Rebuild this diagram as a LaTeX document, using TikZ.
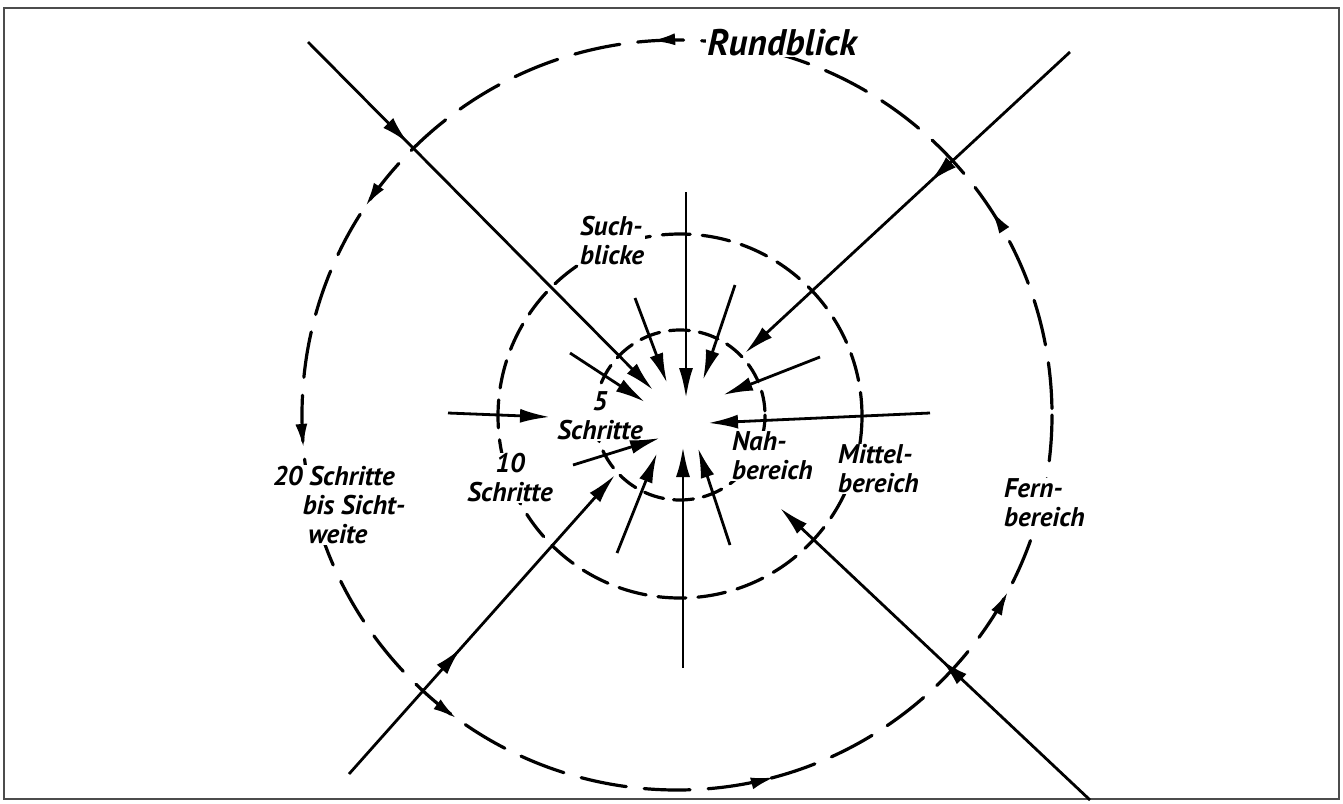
\documentclass[tikz,border=0pt]{standalone}
\usepackage{fontspec}
\setmainfont{PT Sans}
\usetikzlibrary{arrows.meta,decorations.markings}

\tikzset{
    lbl/.style={font=\fontsize{27}{29}\selectfont\bfseries\itshape, align=left, inner sep=1pt, fill=white},
    ring/.style={line width=3.2pt, line cap=round},
    ray/.style={line width=2.8pt, -{Latex[length=30pt,width=14pt]}},
    midarrow/.style={postaction={decorate}, decoration={markings,
        mark=at position #1 with {\arrow{Latex[length=28pt,width=14pt]}}}},
}

\begin{document}
\begin{tikzpicture}[x=1pt, y=-1pt]

\useasboundingbox (0,0) rectangle (1343,803);
\draw[line width=2.2pt, black!70] (4,8) rectangle (1339,799);

% Ringe
\coordinate (innen) at (680,415);
\coordinate (mitte) at (680,416);
\coordinate (aussen) at (677,415);

\draw[ring, dash pattern=on 20pt off 10pt] (innen) circle[radius=85];
\draw[ring, dash pattern=on 28pt off 12pt] (mitte) circle[radius=182];
\draw[ring, dash pattern=on 46pt off 18pt,
    postaction={decorate},
    decoration={markings,
        mark=at position 0.078 with {\arrowreversed{Latex[length=24pt,width=12pt]}},
        mark=at position 0.208 with {\arrowreversed{Latex[length=24pt,width=12pt]}},
        mark=at position 0.350 with {\arrowreversed{Latex[length=24pt,width=12pt]}},
        mark=at position 0.486 with {\arrowreversed{Latex[length=24pt,width=12pt]}},
        mark=at position 0.594 with {\arrowreversed{Latex[length=24pt,width=12pt]}},
        mark=at position 0.739 with {\arrowreversed{Latex[length=24pt,width=12pt]}},
        mark=at position 0.908 with {\arrowreversed{Latex[length=24pt,width=12pt]}}}]
    (aussen) circle[radius=375];

% Beschriftung
\node[lbl, font=\fontsize{37}{39}\selectfont\bfseries\itshape] (rund) at (782,43) {Rundblick};
\node[lbl] (such) at (612,241) {Such-\\blicke};
\node[lbl, align=center] (fuenf) at (600,416) {5\\Schritte};
\node[lbl, align=center] (zehn) at (510,478) {10\\Schritte};
\node[lbl, anchor=west] (zwanzig) at (272,505)
    {20 Schritte\\\hspace*{1.1em}bis Sicht-\\\hspace*{1.3em}weite};
\node[lbl, anchor=west] (nah) at (731,456) {Nah-\\bereich};
\node[lbl, anchor=west] (mittel) at (837,469) {Mittel-\\bereich};
\node[lbl, anchor=west] (fern) at (1003,503) {Fern-\\bereich};

% Fernbereich
\coordinate (d1s) at (308,42);   \coordinate (d1e) at (653,390);
\coordinate (d2s) at (1070,52);  \coordinate (d2e) at (745,353);
\coordinate (d3s) at (349,774);  \coordinate (d3e) at (615,475);
\coordinate (d4s) at (1090,800); \coordinate (d4e) at (780,508);

\draw[ray, midarrow=0.29] (d1s) -- (d1e);
\draw[ray, midarrow=0.43] (d2s) -- (d2e);
\draw[ray, midarrow=0.42] (d3s) -- (d3e);
\draw[ray, midarrow=0.48] (d4s) -- (d4e);

% Such- und Nahblicke
\foreach \sx/\sy/\ex/\ey [count=\i] in {
    686/192/686/398, 683/668/683/447, 448/413/550/417, 930/413/708/423,
    635/298/667/383, 735/285/703/380, 570/353/645/402, 820/357/723/395,
    573/465/660/438, 617/553/657/453, 730/545/698/448}
{
    \coordinate (s\i) at (\sx,\sy);
    \coordinate (e\i) at (\ex,\ey);
    \draw[ray] (s\i) -- (e\i);
}

\end{tikzpicture}
\end{document}
